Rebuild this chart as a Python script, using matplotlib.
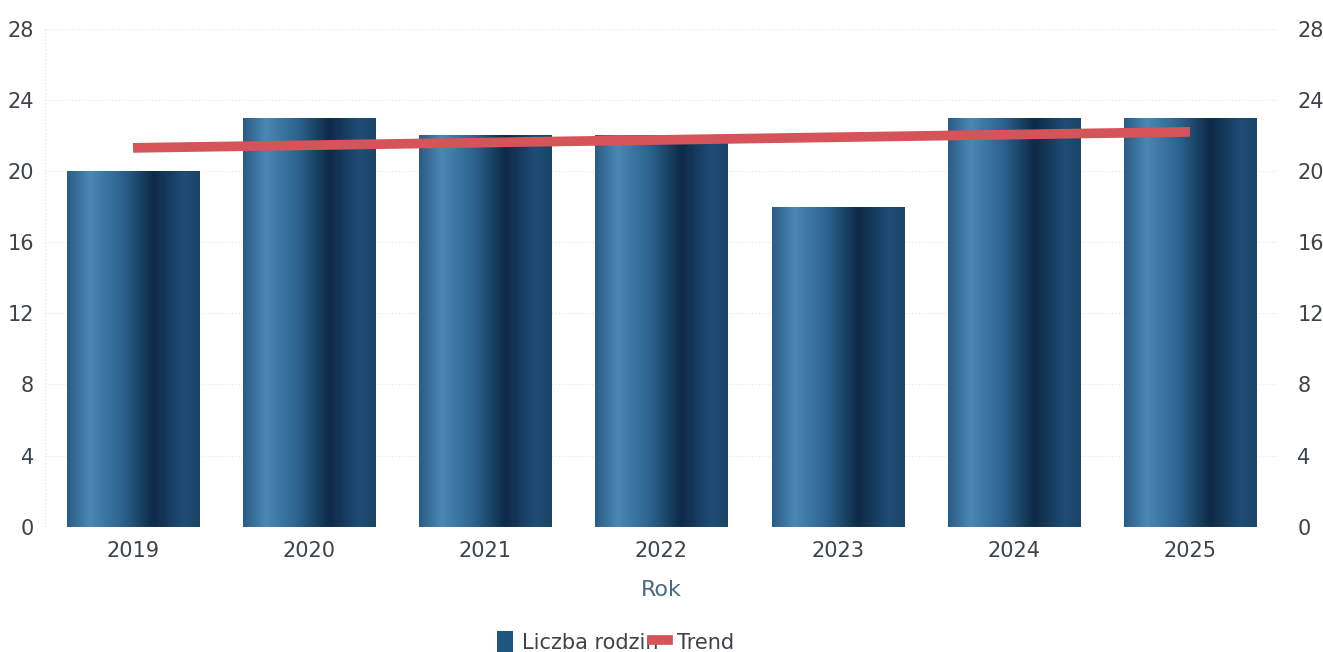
import matplotlib
matplotlib.use("Agg")
import matplotlib.pyplot as plt
import numpy as np
from matplotlib.colors import LinearSegmentedColormap
from matplotlib.patches import Rectangle
from matplotlib.lines import Line2D

years = ["2019", "2020", "2021", "2022", "2023", "2024", "2025"]
liczba_rodzin = [20, 23, 22, 22, 18, 23, 23]
trend_years = ["2019", "2025"]
trend_values = [21.3, 22.2]
yticks = [0, 4, 8, 12, 16, 20, 24, 28]

plt.rcParams['font.family'] = ['DejaVu Sans']
fig = plt.figure(figsize=(13.23, 6.52), dpi=100)
ax = fig.add_axes([0.034, 0.192, 0.932, 0.764])

bar_cmap = LinearSegmentedColormap.from_list("cyl", [
    (0.0, "#295c86"), (0.17, "#4b88b4"), (0.42, "#2a628d"),
    (0.65, "#0e2a46"), (0.88, "#1e4d76"), (1.0, "#1b4467")])
grad = np.linspace(0, 1, 256).reshape(1, -1)

x = np.arange(len(years))
w = 0.75
bars = ax.bar(x, liczba_rodzin, width=w, color="none", zorder=2)
for b in bars:
    x0, y0 = b.get_x(), b.get_y()
    bw, bh = b.get_width(), b.get_height()
    im = ax.imshow(grad, cmap=bar_cmap, aspect="auto",
                   extent=(x0, x0 + bw, y0, y0 + bh), zorder=2,
                   interpolation="bicubic")
    im.set_clip_path(b)

tx = [years.index(t) for t in trend_years]
ax.plot(tx, trend_values, color="#d4545a", linewidth=7, solid_capstyle="butt", zorder=4)

ax.set_xlim(-0.5, len(years) - 0.5)
ax.set_ylim(0, 28)
ax.set_yticks(yticks)
ax.set_xticks(x)
ax.set_xticklabels(years)
ax.grid(axis="y", color="#e6e6e6", linestyle=(0, (1, 2)), linewidth=0.8, zorder=0)
ax.set_axisbelow(True)

for s in ["top", "right", "bottom", "left"]:
    ax.spines[s].set_visible(False)
ax.axvline(-0.5, color="#dddddd", linestyle=(0, (1, 2)), linewidth=0.8)
ax.axvline(len(years) - 0.5, color="#dddddd", linestyle=(0, (1, 2)), linewidth=0.8)
ax.axhline(0, color="#dddddd", linestyle=(0, (1, 2)), linewidth=0.8)

ax.tick_params(axis="both", length=0, labelsize=15, labelcolor="#3d4449")
ax.tick_params(axis="x", pad=10)
ax.tick_params(axis="y", pad=8)

ax2 = ax.twinx()
ax2.set_ylim(0, 28)
ax2.set_yticks(yticks)
for s in ["top", "right", "bottom", "left"]:
    ax2.spines[s].set_visible(False)
ax2.tick_params(axis="y", length=0, labelsize=15, labelcolor="#3d4449", pad=14)

ax.set_xlabel("Rok", fontsize=16, color="#4d6a84", labelpad=14)

handles = [Rectangle((0, 0), 1, 1, facecolor="#1f5580", edgecolor="none"),
           Line2D([0], [0], color="#d4545a", linewidth=7)]
fig.legend(handles, ["Liczba rodzin", "Trend"], loc="lower center",
           bbox_to_anchor=(0.465, -0.03), ncol=2, frameon=False, fontsize=15,
           handlelength=0.8, handleheight=1.2, handletextpad=0.4, columnspacing=-0.3,
           labelcolor="#3d4449")

fig.savefig("out.png", dpi=100)
